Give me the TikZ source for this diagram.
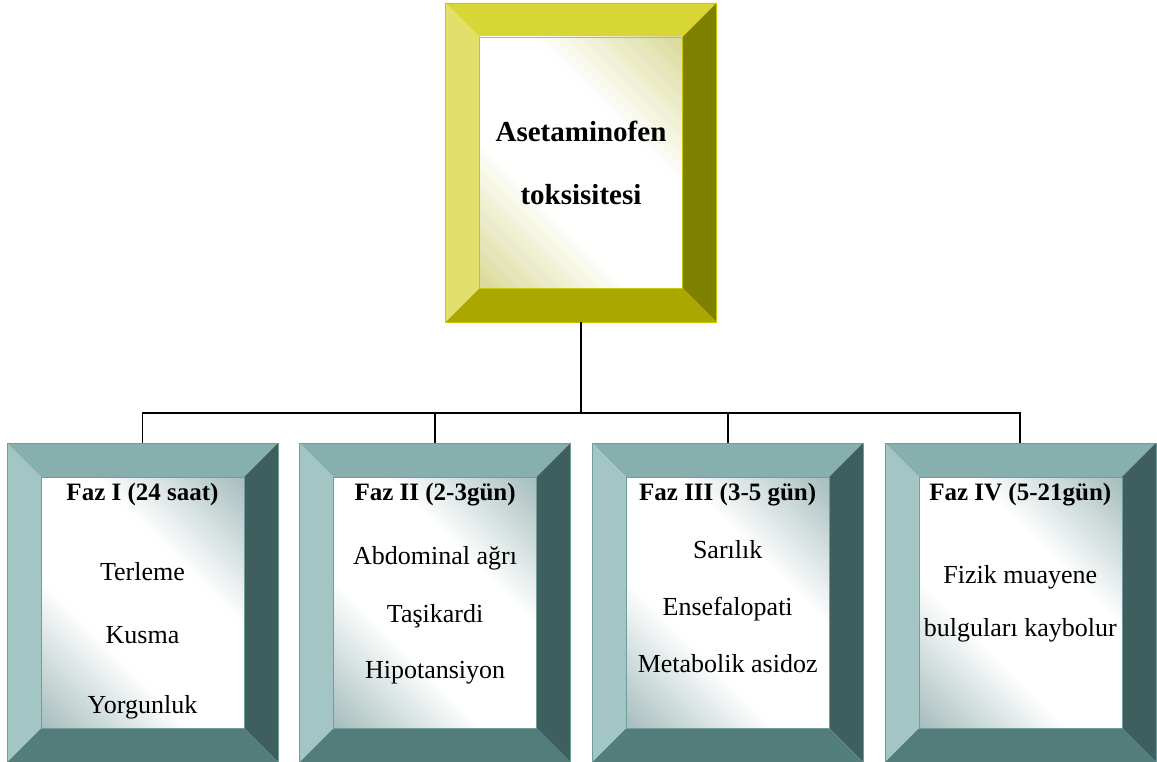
\documentclass[tikz,border=0pt]{standalone}
\usepackage{fontspec}
\setmainfont{Liberation Serif}
\usetikzlibrary{positioning}

\definecolor{yTop}{HTML}{D8D536}
\definecolor{yLeft}{HTML}{E2E06A}
\definecolor{yRight}{HTML}{808000}
\definecolor{yBot}{HTML}{A9A700}
\definecolor{yEdge}{HTML}{C9C700}
\definecolor{yMid}{HTML}{C4C45E}
\definecolor{tTop}{HTML}{86AFAE}
\definecolor{tLeft}{HTML}{A3C5C4}
\definecolor{tRight}{HTML}{3F5F5E}
\definecolor{tBot}{HTML}{537D7B}
\definecolor{tEdge}{HTML}{6F9D9B}
\definecolor{tMid}{HTML}{739897}

\pgfdeclarehorizontalshading{ydiag}{100bp}{color(0bp)=(yMid); color(18bp)=(yMid!55!white); color(38bp)=(white); color(62bp)=(white); color(82bp)=(yMid!55!white); color(100bp)=(yMid)}
\pgfdeclarehorizontalshading{tdiag}{100bp}{color(0bp)=(tMid); color(18bp)=(tMid!55!white); color(38bp)=(white); color(62bp)=(white); color(82bp)=(tMid!55!white); color(100bp)=(tMid)}

\begin{document}
\begin{tikzpicture}[
			x=1pt, y=-1pt,
			node distance=21pt,
			frame/.style={rectangle, draw=#1Edge, line width=0.6pt, minimum width=271pt, minimum height=319pt, inner sep=0pt,
				path picture={
					\path (path picture bounding box.north west) coordinate (pa)
						(path picture bounding box.north east) coordinate (pb)
						(path picture bounding box.south east) coordinate (pc)
						(path picture bounding box.south west) coordinate (pd)
						([shift={(34pt,-34pt)}]pa) coordinate (qa)
						([shift={(-34pt,-34pt)}]pb) coordinate (qb)
						([shift={(-34pt,34pt)}]pc) coordinate (qc)
						([shift={(34pt,34pt)}]pd) coordinate (qd);
					\fill[#1Top] (pa) -- (pb) -- (qb) -- (qa) -- cycle;
					\fill[#1Right] (pb) -- (pc) -- (qc) -- (qb) -- cycle;
					\fill[#1Bot] (pc) -- (pd) -- (qd) -- (qc) -- cycle;
					\fill[#1Left] (pd) -- (pa) -- (qa) -- (qd) -- cycle;
					\shade[shading=#1diag, shading angle=45] (qa) rectangle (qc);
					\draw[#1Edge, line width=0.4pt] (qa) rectangle (qc);
				}},
			title/.style={font=\bfseries\fontsize{29}{29}\selectfont, align=center},
			faz/.style={font=\fontsize{26}{31}\selectfont, align=center, inner sep=0pt},
			link/.style={line width=1.8pt}
			]
			\useasboundingbox (0,0) rectangle (1157,762);
			\node[frame=y, title] (top) at (581,162.5) {Asetaminofen\\[34pt]toksisitesi};
			\node[frame=t] (f1) at (142.5,602.5) {};
			\node[frame=t, right=of f1] (f2) {};
			\node[frame=t, right=of f2] (f3) {};
			\node[frame=t, right=of f3] (f4) {};
			\node[faz, below=40pt of f1.north] (f1txt) {{\bfseries\fontsize{25}{30}\selectfont Faz I (24 saat)}\\[49pt]Terleme\\[32pt]Kusma\\[39pt]Yorgunluk};
			\node[faz, below=40pt of f2.north] (f2txt) {{\bfseries\fontsize{25}{30}\selectfont Faz II (2-3gün)}\\[33pt]Abdominal ağrı\\[27pt]Taşikardi\\[25pt]Hipotansiyon};
			\node[faz, below=40pt of f3.north] (f3txt) {{\bfseries\fontsize{25}{30}\selectfont Faz III (3-5 gün)}\\[27pt]Sarılık\\[26pt]Ensefalopati\\[26pt]Metabolik asidoz};
			\node[faz, below=40pt of f4.north] (f4txt) {{\bfseries\fontsize{25}{30}\selectfont Faz IV (5-21gün)}\\[52pt]Fizik muayene\\[22pt]bulguları kaybolur};
			\coordinate (bus) at (581,413);
			\draw[link] (top.south) -- (bus);
			\draw[link] (f1.north) |- (bus) -| (f4.north);
			\draw[link] (f2.north) -- (f2.north |- bus);
			\draw[link] (f3.north) -- (f3.north |- bus);
		\end{tikzpicture}
\end{document}
